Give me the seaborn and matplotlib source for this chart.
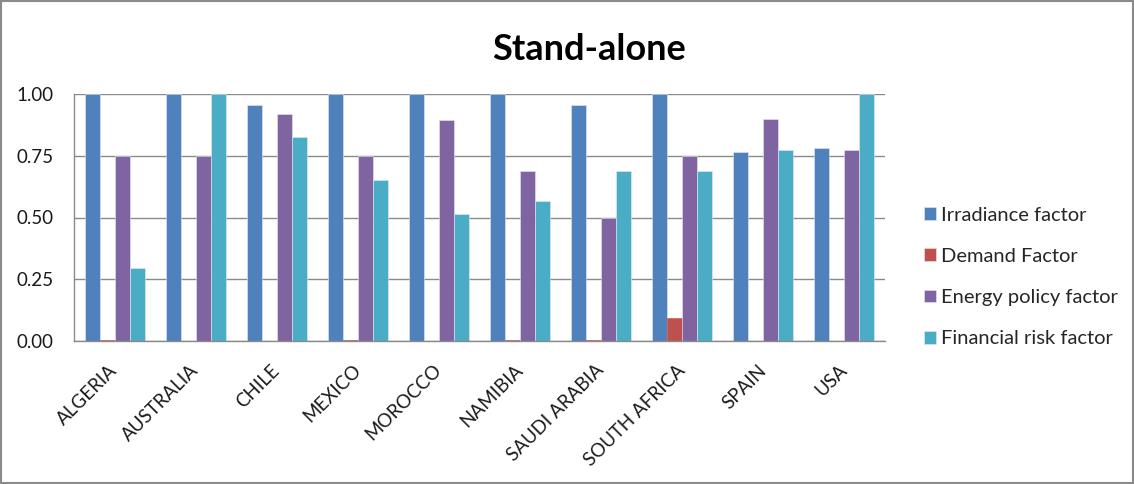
import matplotlib
matplotlib.use("Agg")
import matplotlib.pyplot as plt
import matplotlib.transforms as mtransforms
import seaborn as sns
import pandas as pd
from matplotlib.patches import Rectangle

countries = ["ALGERIA", "AUSTRALIA", "CHILE", "MEXICO", "MOROCCO",
             "NAMIBIA", "SAUDI ARABIA", "SOUTH AFRICA", "SPAIN", "USA"]
series_names = ["Irradiance factor", "Demand Factor",
                "Energy policy factor", "Financial risk factor"]
irradiance = [1.00, 1.00, 0.955, 1.00, 1.00, 1.00, 0.955, 1.00, 0.765, 0.783]
demand = [0.006, 0.0, 0.0, 0.006, 0.0, 0.006, 0.006, 0.093, 0.0, 0.0]
energy_policy = [0.75, 0.75, 0.92, 0.75, 0.895, 0.69, 0.50, 0.75, 0.90, 0.773]
financial_risk = [0.296, 1.00, 0.825, 0.65, 0.515, 0.567, 0.687, 0.687, 0.773, 1.00]
yticks = [0.00, 0.25, 0.50, 0.75, 1.00]
colors = ["#4F81BD", "#C0504D", "#8064A2", "#4BACC6"]

rows = []
for name, vals in zip(series_names, [irradiance, demand, energy_policy, financial_risk]):
    for c, v in zip(countries, vals):
        rows.append({"Country": c, "Factor": name, "Value": v})
df = pd.DataFrame(rows)

sns.set_theme(style="white")
plt.rcParams["font.family"] = ["Lato", "DejaVu Sans"]

fig = plt.figure(figsize=(11.34, 4.84), dpi=100)
ax = fig.add_axes([74 / 1134, 1 - 341 / 484, (885 - 74) / 1134, (341 - 94) / 484])

sns.barplot(data=df, x="Country", y="Value", hue="Factor", order=countries,
            hue_order=series_names, palette=colors, width=0.74, ax=ax,
            edgecolor="#e4eaf2", linewidth=0.4, saturation=1, errorbar=None)

# the thin demand bars keep their own colour on the outline so they stay visible
demand_bars = ax.containers[1]
for bar in demand_bars:
    bar.set_edgecolor(colors[1])

ax.set_ylim(0, 1.0)
ax.set_xlim(-0.5, len(countries) - 0.5)
ax.set_yticks(yticks)
ax.set_yticklabels([f"{t:.2f}" for t in yticks], fontsize=13.5, color="#1a1a1a")
ax.yaxis.grid(True, color="#8a8a8a", linewidth=1.0)
ax.set_axisbelow(True)
ax.set_xlabel("")
ax.set_ylabel("")

ax.set_xticks(range(len(countries)))
ax.set_xticklabels(countries, rotation=45, ha="right", va="center",
                   rotation_mode="anchor", fontsize=13.5, color="#1a1a1a")
shift = mtransforms.ScaledTranslation(5 / 100, 0, fig.dpi_scale_trans)
for lbl in ax.get_xticklabels():
    lbl.set_transform(lbl.get_transform() + shift)
ax.set_xticks([i - 0.5 for i in range(len(countries) + 1)], minor=True)
ax.tick_params(axis="x", which="major", length=0, pad=19)
ax.tick_params(axis="x", which="minor", length=5, color="#8a8a8a", width=1, direction="out")
ax.tick_params(axis="y", length=0, pad=15)

for s in ["top", "right"]:
    ax.spines[s].set_visible(False)
for s in ["left", "bottom"]:
    ax.spines[s].set_color("#8a8a8a")
    ax.spines[s].set_linewidth(1.0)

fig.text(589 / 1134, 1 - 50 / 484, "Stand-alone", ha="center", va="center",
         fontsize=26, fontweight="bold", color="black")

handles, labels = ax.get_legend_handles_labels()
ax.legend(handles, labels, loc="center left", bbox_to_anchor=(906 / 1134, 1 - 277 / 484),
          bbox_transform=fig.transFigure, frameon=False, fontsize=14.5,
          labelspacing=1.2, handlelength=0.6, handleheight=0.6, handletextpad=0.25)

fig.patches.append(Rectangle((0.001, 0.002), 0.998, 0.996, transform=fig.transFigure,
                             fill=False, edgecolor="#8a8a8a", linewidth=1.5))

fig.savefig("out.png", dpi=100, facecolor="white")
